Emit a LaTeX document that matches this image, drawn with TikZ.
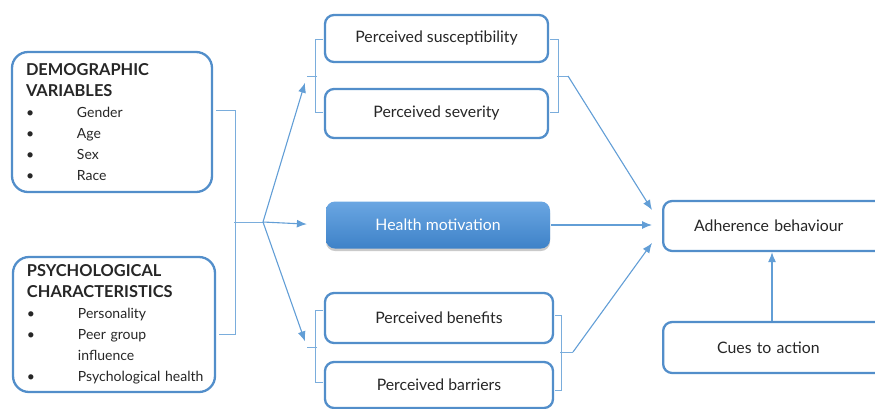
\documentclass[tikz,border=0pt]{standalone}
\usepackage{fontspec}
\setmainfont{Lato}
\usetikzlibrary{arrows.meta,shadows,calc,positioning}
\tikzset{
  >={Latex[length=10pt,width=8pt]}
}
\definecolor{lineblue}{RGB}{98,158,214}
\definecolor{boxblue}{RGB}{82,142,202}
\definecolor{fillhi}{RGB}{106,166,226}
\definecolor{filllo}{RGB}{62,130,200}

\begin{document}
\begin{tikzpicture}[x=1pt,y=-1pt,
    factor/.style={draw=boxblue,line width=2.3pt,rounded corners=9pt,minimum width=223pt,minimum height=48pt,text=black!85,font=\fontsize{15.8}{18}\selectfont},
    listbox/.style={draw=boxblue,line width=2.3pt,rounded corners=16pt,text width=172pt,inner xsep=14pt,align=left,text=black!85,font=\fontsize{14}{21}\selectfont},
    motive/.style={factor,draw=none,top color=fillhi,bottom color=filllo,text=white,drop shadow={shadow xshift=0pt,shadow yshift=-2.5pt,opacity=0.35,fill=black!60}},
    link/.style={draw=lineblue,line width=1.1pt},
    bracket/.style={draw=lineblue!85,line width=0.9pt}]
        \useasboundingbox (0,0) rectangle (875,408);
        \clip (0,0) rectangle (875,408);

        % left hand lists
        \node (demo) at (112,122) [listbox,minimum height=140pt] {\textbf{\fontsize{16.4}{21}\selectfont DEMOGRAPHIC}\\
            \textbf{\fontsize{16.4}{21}\selectfont VARIABLES}\\
            \makebox[51pt][l]{\textbullet}Gender\\
            \makebox[51pt][l]{\textbullet}Age\\
            \makebox[51pt][l]{\textbullet}Sex\\
            \makebox[51pt][l]{\textbullet}Race};
        \node (psych) at (114,324.5) [listbox,text width=174pt,minimum height=135pt] {\textbf{\fontsize{16.4}{21}\selectfont PSYCHOLOGICAL}\\
            \textbf{\fontsize{16.4}{21}\selectfont CHARACTERISTICS}\\
            \makebox[51pt][l]{\textbullet}Personality\\
            \makebox[51pt][l]{\textbullet}Peer group\\
            \hspace*{51pt}influence\\
            \makebox[51pt][l]{\textbullet}\mbox{Psychological health}};

        % middle column
        \node (susc) at (436.5,38.5) [factor,minimum height=47pt] {Perceived susceptibility};
        \node (sev) at (436.5,113.5) [factor,minimum height=49pt] {Perceived severity};
        \node (health) at (438,225) [motive,minimum width=224pt,minimum height=47pt] {Health motivation};
        \node (ben) at (439,318) [factor,minimum width=228pt,minimum height=50pt] {Perceived benefits};
        \node (bar) at (439,385) [factor,minimum width=228pt,minimum height=46pt] {Perceived barriers};

        % right column
        \node (adh) at (662,226) [factor,anchor=west,minimum width=240pt,minimum height=50pt,text width=210pt,align=left] {\hspace*{16pt}Adherence behaviour};
        \node (cues) at (662,347.5) [factor,anchor=west,minimum width=240pt,minimum height=51pt,text width=210pt,align=left] {\hspace*{39pt}Cues to action};

        % brackets
        \coordinate (knee) at (234,222);
        \coordinate (fan) at (263,222);
        \draw[bracket] ($(demo.east)+(3,-12)$) -- ++(19,0) |- ($(psych.east)+(3,10)$);
        \draw[bracket] (knee) -- (fan);

        \draw[bracket] ($(susc.west)+(-1,1)$) -- ++(-7,0) |- ($(sev.west)+(-1,-1)$);
        \draw[bracket] ($(susc.east)+(1,1)$) -- ++(8,0) |- ($(sev.east)+(1,-1)$);
        \coordinate (topin) at (307,76);
        \coordinate (topout) at (568,76);
        \draw[bracket] (317,76) -- (topin);
        \draw[bracket] (557,76) -- (topout);

        \draw[bracket] ($(ben.west)+(-1,-8)$) -- ++(-7,0) |- ($(bar.west)+(-1,-3)$);
        \draw[bracket] ($(ben.east)+(1,-3)$) -- ++(6,0) |- ($(bar.east)+(1,5)$);
        \coordinate (botin) at (307,347);
        \coordinate (botout) at (573,352);
        \draw[bracket] (317,347) -- (botin);
        \draw[bracket] (560,352) -- (botout);

        % arrows
        \draw[link,->,shorten >=7pt] (fan) -- (topin);
        \draw[link,->,shorten >=18pt] (fan) -- (health.west);
        \draw[link,->,shorten >=6pt] (fan) -- (botin);

        \draw[link,->] (topout) -- ([xshift=-10pt,yshift=16pt]adh.west);
        \draw[link,->] (health.east) -- ([xshift=-10pt]adh.west |- health.east);
        \draw[link,->] (botout) -- ([xshift=-10pt,yshift=-17pt]adh.west);
        \draw[link,->] ([xshift=110pt]cues.north west) -- ([xshift=110pt]adh.south west);
    \end{tikzpicture}
\end{document}
